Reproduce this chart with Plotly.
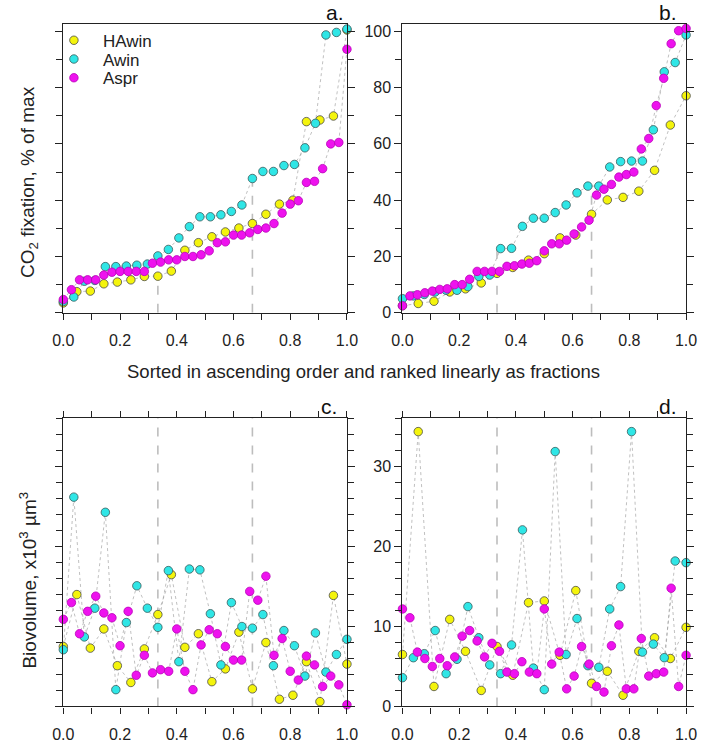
import numpy as np
import plotly.graph_objects as go

# ---------------- data ----------------
series_names = ["HAwin", "Awin", "Aspr"]

# panel a: CO2 fixation (% of max), sorted ascending
a_hawin = [3.5, 7.5, 7.7, 10.3, 10.9, 11.7, 12.9, 13.0, 14.8, 22.2, 24.9, 27.0, 28.7, 30.1,
           31.7, 35.0, 38.6, 40.0, 67.9, 68.5, 69.9, 100.5]
a_awin = [4.0, 5.6, 11.2, 11.5, 16.4, 16.4, 16.6, 16.9, 17.3, 20.2, 22.5, 26.6, 30.6, 34.1,
          34.1, 34.8, 36.0, 38.3, 47.7, 50.2, 50.2, 52.3, 52.7, 58.6, 67.3, 98.7, 99.6, 100.8]
a_aspr = [4.7, 8.2, 11.7, 11.7, 11.7, 13.4, 14.4, 14.7, 14.7, 14.7, 14.7, 17.6, 18.0, 18.8,
          18.8, 20.0, 20.0, 20.6, 22.0, 24.9, 25.2, 27.6, 27.6, 28.4, 29.6, 30.1, 31.7, 35.4,
          38.6, 39.8, 46.3, 46.7, 51.2, 60.0, 60.5, 93.6]

# panel b
b_hawin = [2.5, 3.3, 4.1, 7.4, 8.5, 10.6, 14.0, 16.1, 18.7, 21.0, 26.6, 27.6, 35.0, 40.1,
           41.0, 43.2, 50.6, 66.7, 77.1]
b_awin = [5.0, 6.0, 6.5, 7.4, 8.0, 8.0, 9.3, 12.9, 13.4, 22.8, 22.9, 30.7, 33.6, 33.6, 35.6,
          38.3, 42.6, 45.0, 45.0, 51.8, 53.7, 53.9, 53.9, 65.0, 85.6, 88.9, 98.7]
b_aspr = [2.5, 6.0, 6.4, 7.1, 7.7, 8.3, 8.5, 10.0, 10.0, 11.9, 14.7, 14.7, 14.7, 14.7, 16.5,
          16.7, 17.3, 17.6, 18.5, 22.0, 24.5, 24.5, 25.8, 28.0, 30.5, 32.9, 41.8, 43.9, 45.6,
          48.2, 49.1, 50.0, 58.2, 61.9, 73.6, 83.3, 95.6, 100.2, 101.0]

# panel c: biovolume (x10^3 um^3) in the same rank order as panel a
c_hawin = [7.5, 14.0, 7.3, 9.7, 5.1, 3.0, 7.2, 11.5, 16.5, 7.4, 9.1, 3.1, 4.7, 9.3, 2.2, 8.0,
           0.9, 1.4, 5.6, 0.6, 13.9, 5.3]
c_awin = [7.1, 26.2, 8.7, 12.3, 24.3, 2.1, 10.5, 15.1, 12.3, 9.9, 17.0, 5.6, 17.2, 17.1, 11.6,
          5.2, 13.0, 10.0, 9.8, 11.5, 5.1, 9.5, 7.6, 3.8, 9.2, 4.3, 6.5, 8.4]
c_aspr = [10.9, 13.0, 9.1, 11.9, 13.8, 11.7, 11.1, 7.6, 11.9, 3.9, 6.4, 4.2, 4.6, 4.4, 9.7, 4.4,
          2.1, 7.7, 9.6, 9.1, 7.5, 5.8, 5.8, 14.4, 13.3, 16.3, 6.4, 8.5, 4.4, 3.3, 6.3, 5.2,
          2.5, 3.8, 2.7, 0.2]

# panel d: same rank order as panel b
d_hawin = [6.5, 34.4, 2.5, 10.9, 6.9, 2.0, 7.5, 3.9, 13.0, 13.2, 6.4, 14.5, 2.9, 4.4, 1.4,
           6.9, 8.6, 6.0, 9.9]
d_awin = [3.6, 6.1, 6.6, 9.5, 4.1, 5.9, 12.5, 8.6, 5.2, 4.1, 7.7, 22.1, 4.8, 2.1, 31.9, 6.5,
          11.0, 5.1, 4.9, 12.2, 15.0, 34.4, 6.8, 7.8, 6.1, 18.2, 18.0]
d_aspr = [12.2, 11.1, 6.8, 6.0, 5.0, 6.0, 5.1, 6.2, 8.8, 9.5, 8.2, 6.2, 7.9, 6.9, 4.3, 4.1,
          5.6, 4.3, 4.1, 12.2, 5.3, 6.8, 2.2, 3.8, 7.5, 5.3, 2.5, 1.8, 7.6, 10.2, 2.2, 2.2,
          8.5, 3.8, 4.1, 4.3, 14.8, 2.5, 6.4]

# tercile reference lines (x = 1/3, 2/3) and their heights in the top panels
tercile_x = [1 / 3, 2 / 3]
a_tercile_top = [13.0, 47.7]
b_tercile_top = [22.5, 42.0]

panel_labels = ["a.", "b.", "c.", "d."]

# ---------------- styling ----------------
W, H = 709, 747
FONT = "Arial, Liberation Sans, sans-serif"
colors = ["#F4F40C", "#2FE6E6", "#EE12EE"]
edges = ["#4a4a4a", "#3a5a5a", "#B800B8"]
legend_ids = ["legend", "legend2", "legend3"]
legend_rows_px = [40, 59, 78]   # row centres of the legend entries

# panel frames in pixels: (left, right, top, bottom)
frames = [(54, 346.7, 23, 316), (404, 696.7, 23, 316),
          (54, 346.7, 422.7, 715), (404, 696.7, 422.7, 715)]

panels = [
    (a_hawin, a_awin, a_aspr),
    (b_hawin, b_awin, b_aspr),
    (c_hawin, c_awin, c_aspr),
    (d_hawin, d_awin, d_aspr),
]

fig = go.Figure()

for p, data in enumerate(panels):
    xa = "x" if p == 0 else f"x{p+1}"
    ya = "y" if p == 0 else f"y{p+1}"
    # dotted connectors first
    for s, vals in enumerate(data):
        xs = np.linspace(0, 1, len(vals))
        fig.add_trace(go.Scatter(
            x=xs, y=vals, xaxis=xa, yaxis=ya, mode="lines",
            line=dict(color="rgba(150,150,150,0.6)", width=1, dash="dot"),
            showlegend=False, hoverinfo="skip", cliponaxis=False))
    for s, vals in enumerate(data):
        xs = np.linspace(0, 1, len(vals))
        fig.add_trace(go.Scatter(
            x=xs, y=vals, xaxis=xa, yaxis=ya, mode="markers",
            name=series_names[s], legend=legend_ids[s],
            marker=dict(size=8.5, color=colors[s], line=dict(color=edges[s], width=0.8)),
            showlegend=(p == 0), cliponaxis=False))

layout_axes = {}
for p, (l, r, t, b) in enumerate(frames):
    xkey = "xaxis" if p == 0 else f"xaxis{p+1}"
    ykey = "yaxis" if p == 0 else f"yaxis{p+1}"
    xa = "x" if p == 0 else f"x{p+1}"
    ya = "y" if p == 0 else f"y{p+1}"
    top = p < 2
    layout_axes[xkey] = dict(
        domain=[l / W, r / W], anchor=ya, range=[0, 1],
        showgrid=False, zeroline=False, showline=True, linecolor="#222", linewidth=1.2,
        mirror=True if top else "ticks",
        ticks="outside", ticklen=6, tickwidth=1, tickcolor="#222",
        tick0=0, dtick=0.2, tickformat=".1f", ticklabelstandoff=7,
        minor=dict(dtick=0.1, ticks="outside", ticklen=6, tickwidth=1, tickcolor="#222",
                   showgrid=False),
        tickfont=dict(family=FONT, size=16, color="#222"),
    )
    layout_axes[ykey] = dict(
        domain=[1 - b / H, 1 - t / H], anchor=xa,
        range=[0, 102.7] if top else [0, 36.1],
        showgrid=False, zeroline=False, showline=True, linecolor="#222", linewidth=1.2,
        mirror="ticks",
        ticks="outside", ticklen=7, tickwidth=1, tickcolor="#222",
        tick0=0, dtick=20 if top else 10,
        minor=dict(dtick=10 if top else 2, ticks="outside", ticklen=6, tickwidth=1,
                   tickcolor="#222", showgrid=False),
        showticklabels=(p % 2 == 1),
        tickfont=dict(family=FONT, size=16, color="#222"),
    )

shapes = []
for p in range(4):
    xref = "x" if p == 0 else f"x{p+1}"
    yref = "y" if p == 0 else f"y{p+1}"
    for i, tx in enumerate(tercile_x):
        if p == 0:
            y1 = a_tercile_top[i]
        elif p == 1:
            y1 = b_tercile_top[i]
        else:
            y1 = 36.1
        shapes.append(dict(type="line", xref=xref, yref=yref, x0=tx, x1=tx, y0=0, y1=y1,
                           line=dict(color="#BDBDBD", width=1.6, dash="dash"),
                           layer="below"))

annotations = []
label_pos = [(346, 12), (689, 12), (339, 411), (689, 411)]
for lab, (lx, ly) in zip(panel_labels, label_pos):
    annotations.append(dict(text=lab, xref="paper", yref="paper", x=lx / W, y=1 - ly / H,
                            xanchor="right", yanchor="middle", showarrow=False,
                            font=dict(family=FONT, size=21, color="#111")))
annotations.append(dict(text="CO<sub>2</sub> fixation, % of max", xref="paper", yref="paper",
                        x=18 / W, y=1 - 183 / H, textangle=-90, showarrow=False,
                        xanchor="center", yanchor="middle",
                        font=dict(family=FONT, size=19, color="#222")))
annotations.append(dict(text="Biovolume, x10<sup>3</sup> \u00b5m<sup>3</sup>", xref="paper",
                        yref="paper", x=18 / W, y=1 - 587 / H, textangle=-90, showarrow=False,
                        xanchor="center", yanchor="middle",
                        font=dict(family=FONT, size=19, color="#222")))
annotations.append(dict(text="Sorted in ascending order and ranked linearly as fractions",
                        xref="paper", yref="paper", x=364 / W, y=1 - 376 / H, showarrow=False,
                        xanchor="center", yanchor="middle",
                        font=dict(family=FONT, size=18.5, color="#222")))

legends = {}
for lid, row in zip(legend_ids, legend_rows_px):
    legends[lid] = dict(x=35 / W, y=1 - (row - 18) / H, xanchor="left", yanchor="top",
                        bgcolor="rgba(0,0,0,0)", borderwidth=0, itemwidth=48,
                        font=dict(family=FONT, size=17, color="#222"))

fig.update_layout(
    width=W, height=H, margin=dict(l=0, r=0, t=0, b=0),
    paper_bgcolor="white", plot_bgcolor="white",
    font=dict(family=FONT, color="#222"),
    showlegend=True,
    shapes=shapes, annotations=annotations,
    **legends,
    **layout_axes,
)

fig.write_html("out.html")
